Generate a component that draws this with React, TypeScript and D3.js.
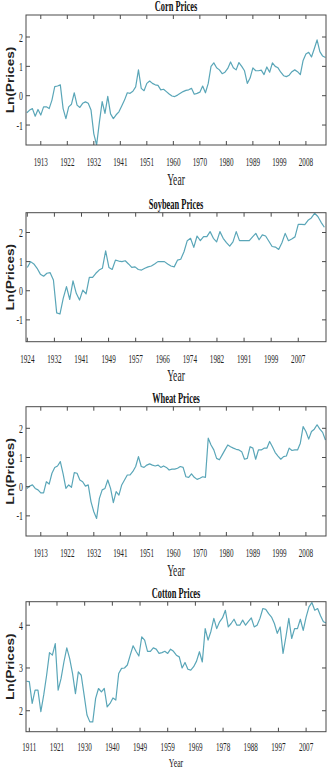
import React, { useRef, useEffect } from 'react';
import * as d3 from 'd3';

// yearly log prices
const cornStart = 1908;
const cornValues = [
  -0.58, -0.49, -0.44, -0.70, -0.47, -0.66, -0.38, -0.38, -0.44, -0.15,
  0.31, 0.33, 0.37, -0.44, -0.78, -0.38, -0.29, 0.10, -0.32, -0.40,
  -0.26, -0.21, -0.26, -0.49, -1.30, -1.68, -0.90, -0.20, -0.60, -0.02,
  -0.62, -0.78, -0.65, -0.55, -0.35, -0.15, 0.10, 0.08, 0.15, 0.30,
  0.88, 0.25, 0.17, 0.42, 0.50, 0.42, 0.37, 0.35, 0.20, 0.22,
  0.14, 0.06, -0.01, -0.03, 0.02, 0.08, 0.14, 0.18, 0.20, 0.25,
  0.05, 0.08, 0.12, 0.33, 0.10, 0.42, 1.00, 1.12, 0.95, 0.88,
  0.75, 0.80, 0.93, 1.15, 0.95, 0.88, 1.13, 1.00, 0.85, 0.42,
  0.60, 0.95, 0.85, 0.85, 0.87, 0.72, 0.98, 0.80, 1.12, 1.00,
  0.95, 0.80, 0.68, 0.65, 0.70, 0.82, 0.88, 0.82, 0.72, 1.20,
  1.42, 1.48, 1.32, 1.60, 1.90, 1.50, 1.35, 1.30,
];

const soyStart = 1924;
const soyValues = [
  0.80, 1.00, 0.92, 0.77, 0.57, 0.50, 0.60, 0.62, 0.37, -0.76,
  -0.80, -0.26, 0.14, -0.30, 0.34, -0.09, -0.32, 0.02, -0.11, 0.46,
  0.46, 0.60, 0.71, 0.77, 1.37, 0.80, 0.73, 1.05, 1.02, 1.00,
  1.03, 0.92, 0.80, 0.82, 0.73, 0.71, 0.77, 0.82, 0.85, 0.92,
  1.00, 1.00, 1.00, 0.92, 0.85, 0.82, 1.05, 1.08, 1.34, 1.72,
  1.80, 1.49, 1.88, 1.72, 1.86, 1.86, 2.03, 1.80, 1.68, 2.03,
  1.80, 1.65, 1.53, 1.68, 2.03, 1.72, 1.72, 1.72, 1.72, 1.85,
  1.97, 1.75, 1.92, 1.88, 1.70, 1.52, 1.50, 1.42, 1.65, 1.97,
  1.72, 1.78, 1.85, 2.28, 2.28, 2.27, 2.42, 2.50, 2.66, 2.55,
  2.35, 2.18,
];

const wheatStart = 1908;
const wheatValues = [
  -0.06, 0.02, 0.06, -0.06, -0.11, -0.21, -0.21, 0.17, 0.09, 0.46,
  0.66, 0.71, 0.86, 0.44, -0.06, 0.06, -0.02, 0.48, 0.46, 0.23,
  0.17, 0.02, 0.06, -0.52, -0.86, -1.09, -0.40, -0.11, -0.06, 0.23,
  -0.06, -0.55, -0.17, -0.29, 0.06, 0.23, 0.40, 0.40, 0.52, 0.69,
  1.03, 0.69, 0.66, 0.74, 0.78, 0.74, 0.71, 0.74, 0.66, 0.71,
  0.66, 0.57, 0.60, 0.60, 0.63, 0.69, 0.66, 0.34, 0.32, 0.44,
  0.32, 0.25, 0.29, 0.34, 0.32, 1.66, 1.43, 1.26, 0.97, 0.92,
  1.09, 1.26, 1.43, 1.37, 1.32, 1.28, 1.26, 1.20, 0.94, 0.97,
  1.37, 1.32, 0.94, 1.26, 1.26, 1.32, 1.32, 1.55, 1.37, 1.17,
  1.05, 0.94, 1.03, 1.05, 1.32, 1.24, 1.26, 1.26, 1.49, 2.06,
  1.89, 1.63, 1.89, 1.97, 2.12, 1.97, 1.86, 1.60,
];

const cottonStart = 1910;
const cottonValues = [
  2.69, 2.68, 2.17, 2.48, 2.48, 1.98, 2.37, 2.83, 3.36, 3.30,
  3.57, 2.48, 2.75, 3.14, 3.47, 3.22, 2.87, 2.40, 2.91, 2.83,
  2.37, 1.90, 1.74, 1.74, 2.29, 2.52, 2.44, 2.52, 2.09, 2.17,
  2.30, 2.25, 2.87, 2.99, 3.00, 3.07, 3.30, 3.52, 3.39, 3.28,
  3.73, 3.65, 3.39, 3.39, 3.47, 3.44, 3.34, 3.36, 3.39, 3.34,
  3.44, 3.39, 3.30, 3.26, 3.00, 3.13, 2.97, 2.95, 3.03, 3.16,
  3.38, 3.14, 3.92, 3.65, 3.86, 4.16, 3.92, 4.08, 4.17, 4.35,
  3.96, 4.04, 4.14, 4.00, 4.00, 4.12, 4.00, 4.09, 4.17, 3.96,
  4.00, 4.16, 4.39, 4.37, 4.27, 4.19, 4.04, 3.81, 3.96, 3.34,
  3.73, 4.16, 3.69, 3.92, 3.92, 4.14, 3.88, 4.19, 4.43, 4.53,
  4.35, 4.39, 4.22, 4.08, 4.05,
];

// tick labels as printed on each x axis
const cornTickLabels = ['1913', '1922', '1932', '1941', '1951', '1960', '1970', '1980', '1989', '1999', '2008'];
const soyTickLabels = ['1924', '1932', '1941', '1949', '1957', '1966', '1974', '1982', '1991', '1999', '2007'];
const wheatTickLabels = ['1913', '1922', '1932', '1941', '1951', '1960', '1970', '1980', '1989', '1999', '2008'];
const cottonTickLabels = ['1911', '1921', '1930', '1940', '1949', '1959', '1969', '1978', '1988', '1997', '2007'];

const cornYTicks = [-1, 0, 1, 2];
const soyYTicks = [-1, 0, 1, 2];
const wheatYTicks = [-1, 0, 1, 2];
const cottonYTicks = [2, 3, 4];

const LINE_COLOR = '#5aa6b8';
const AXIS_COLOR = '#4a4a4a';
const SERIF = '"Liberation Serif", "Times New Roman", serif';

type Panel = {
  title: string;
  start: number;
  values: number[];
  xDomain: [number, number];
  firstTick: number;
  tickStep: number;
  tickLabels: string[];
  yDomain: [number, number];
  yTicks: number[];
  top: number;
  bottom: number;
  tickLabelGap: number;
  xLabelY: number;
  xLabelSize: number;
};

const panels: Panel[] = [
  { title: 'Corn Prices', start: cornStart, values: cornValues, xDomain: [1907.7, 2015.2],
    firstTick: 1913, tickStep: 9.5, tickLabels: cornTickLabels,
    yDomain: [-1.68, 2.75], yTicks: cornYTicks, top: 15, bottom: 145,
    tickLabelGap: 21, xLabelY: 185, xLabelSize: 16 },
  { title: 'Soybean Prices', start: soyStart, values: soyValues, xDomain: [1923.6, 2015.5],
    firstTick: 1924, tickStep: 8.3, tickLabels: soyTickLabels,
    yDomain: [-1.75, 2.68], yTicks: soyYTicks, top: 212.7, bottom: 341.7,
    tickLabelGap: 21, xLabelY: 381, xLabelSize: 16 },
  { title: 'Wheat Prices', start: wheatStart, values: wheatValues, xDomain: [1907.7, 2015.2],
    firstTick: 1913, tickStep: 9.5, tickLabels: wheatTickLabels,
    yDomain: [-1.69, 2.74], yTicks: wheatYTicks, top: 406.7, bottom: 536,
    tickLabelGap: 21, xLabelY: 576, xLabelSize: 16 },
  { title: 'Cotton Prices', start: cottonStart, values: cottonValues, xDomain: [1909.85, 2013.9],
    firstTick: 1911, tickStep: 9.6, tickLabels: cottonTickLabels,
    yDomain: [1.51, 4.55], yTicks: cottonYTicks, top: 601.7, bottom: 731.7,
    tickLabelGap: 19.5, xLabelY: 767, xLabelSize: 13 },
];

const LEFT = 26;
const RIGHT = 326;
const TICK = 4;

export default function App() {
  const ref = useRef<SVGSVGElement>(null);

  useEffect(() => {
    const svg = d3.select(ref.current);
    svg.selectAll('*').remove();

    panels.forEach((p) => {
      const g = svg.append('g');
      const x = d3.scaleLinear().domain(p.xDomain).range([LEFT, RIGHT]);
      const y = d3.scaleLinear().domain(p.yDomain).range([p.bottom, p.top]);

      const clipId = 'clip-' + p.title.split(' ')[0];
      svg.append('clipPath').attr('id', clipId)
        .append('rect')
        .attr('x', LEFT).attr('y', p.top)
        .attr('width', RIGHT - LEFT).attr('height', p.bottom - p.top);

      const line = d3.line<number>()
        .x((_, i) => x(p.start + i))
        .y((d) => y(d));

      g.append('path')
        .datum(p.values)
        .attr('d', line)
        .attr('fill', 'none')
        .attr('stroke', LINE_COLOR)
        .attr('stroke-width', 1.2)
        .attr('stroke-linejoin', 'round')
        .attr('clip-path', `url(#${clipId})`);

      // box
      g.append('rect')
        .attr('x', LEFT).attr('y', p.top)
        .attr('width', RIGHT - LEFT).attr('height', p.bottom - p.top)
        .attr('fill', 'none').attr('stroke', AXIS_COLOR).attr('stroke-width', 1);

      // x ticks (bottom and top, inward)
      const xt = p.tickLabels.map((lab, i) => ({ lab, v: p.firstTick + i * p.tickStep }));
      xt.forEach(({ lab, v }) => {
        const px = x(v);
        g.append('line').attr('x1', px).attr('x2', px)
          .attr('y1', p.bottom).attr('y2', p.bottom - TICK)
          .attr('stroke', AXIS_COLOR);
        g.append('line').attr('x1', px).attr('x2', px)
          .attr('y1', p.top).attr('y2', p.top + TICK)
          .attr('stroke', AXIS_COLOR);
        g.append('text')
          .attr('transform', `translate(${px},${p.bottom + p.tickLabelGap}) scale(0.55,1)`)
          .attr('text-anchor', 'middle')
          .attr('font-family', SERIF)
          .attr('font-size', 13)
          .attr('fill', '#222')
          .text(lab);
      });

      // y ticks (left and right, inward)
      p.yTicks.forEach((v) => {
        const py = y(v);
        g.append('line').attr('x1', LEFT).attr('x2', LEFT + TICK)
          .attr('y1', py).attr('y2', py).attr('stroke', AXIS_COLOR);
        g.append('line').attr('x1', RIGHT).attr('x2', RIGHT - TICK)
          .attr('y1', py).attr('y2', py).attr('stroke', AXIS_COLOR);
        g.append('text')
          .attr('transform', `translate(${LEFT - 3},${py + 4.5}) scale(0.6,1)`)
          .attr('text-anchor', 'end')
          .attr('font-family', SERIF)
          .attr('font-size', 13)
          .attr('fill', '#222')
          .text(String(v));
      });

      // title
      g.append('text')
        .attr('transform', `translate(${(LEFT + RIGHT) / 2},${p.top - 4}) scale(0.6,1)`)
        .attr('text-anchor', 'middle')
        .attr('font-family', SERIF)
        .attr('font-weight', 'bold')
        .attr('font-size', 14)
        .attr('fill', '#111')
        .text(p.title);

      // x label
      g.append('text')
        .attr('transform', `translate(${(LEFT + RIGHT) / 2},${p.xLabelY}) scale(0.6,1)`)
        .attr('text-anchor', 'middle')
        .attr('font-family', SERIF)
        .attr('font-size', p.xLabelSize)
        .attr('fill', '#222')
        .text('Year');

      // y label
      g.append('text')
        .attr('transform', `translate(14,${(p.top + p.bottom) / 2}) rotate(-90) scale(1.3,1)`)
        .attr('text-anchor', 'middle')
        .attr('font-family', '"Liberation Sans", Arial, sans-serif')
        .attr('font-weight', 'bold')
        .attr('font-size', 10.5)
        .attr('fill', '#222')
        .text('Ln(Prices)');
    });
  }, []);

  return (
    <div style={{ position: 'absolute', left: 0, top: 0, background: '#fff' }}>
      <svg ref={ref} width={330} height={770} style={{ display: 'block' }} />
    </div>
  );
}
